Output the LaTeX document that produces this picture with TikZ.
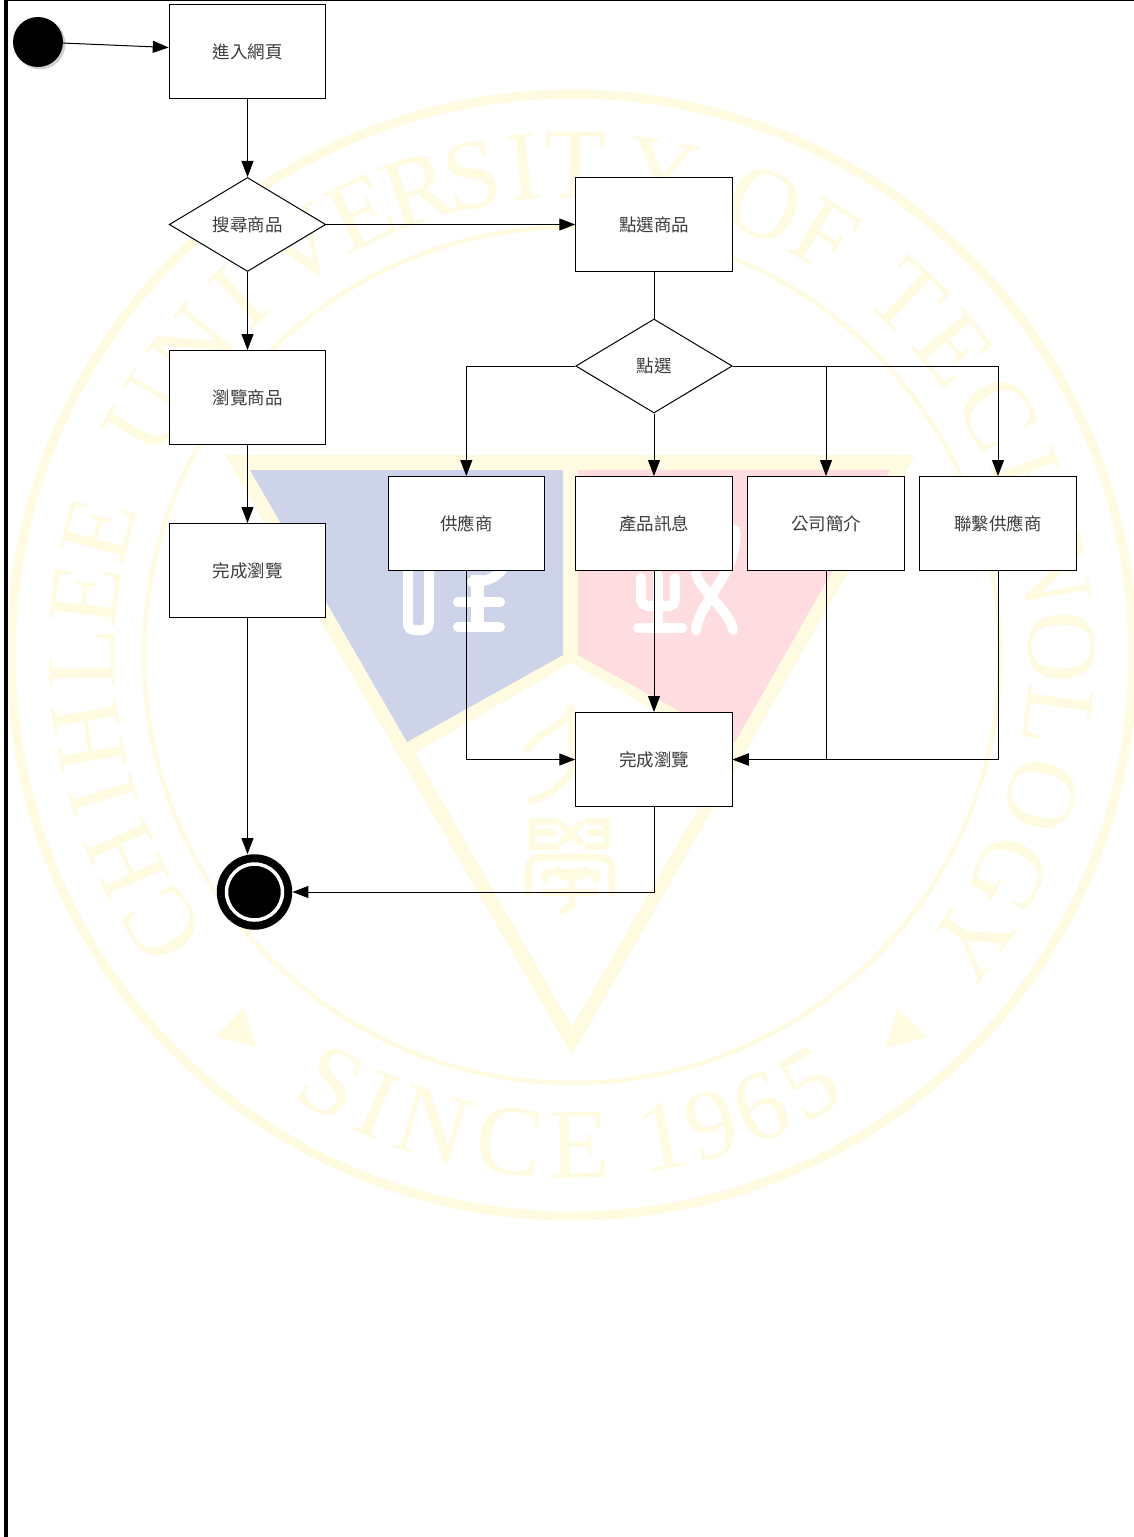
\documentclass[tikz,border=0pt]{standalone}
\usepackage{fontspec}
\usetikzlibrary{shapes.geometric,arrows.meta,calc}
\newfontfamily\cjkfont{Noto Sans CJK TC}
\newfontfamily\wmserif{Liberation Serif}
\definecolor{wmyellow}{HTML}{FFFBE0}
\definecolor{wmblue}{HTML}{CDD3E9}
\definecolor{wmred}{HTML}{FEDCE0}
\definecolor{labelgrey}{HTML}{3C3C3C}
\tikzset{
  box/.style={draw=black,line width=1pt,fill=white,rectangle,minimum width=156.5pt,minimum height=94pt,inner sep=0pt,text=labelgrey,font=\cjkfont\fontsize{17.5}{20}\selectfont},
  choice/.style={draw=black,line width=1pt,fill=white,diamond,aspect=1.66,minimum width=156.5pt,minimum height=94pt,inner sep=0pt,text=labelgrey,font=\cjkfont\fontsize{17.5}{20}\selectfont},
  flow/.style={draw=black,line width=1pt,-{Triangle[length=16pt,width=12pt]}},
  plainflow/.style={draw=black,line width=1pt},
  wmstroke/.style={draw=wmyellow,line cap=round,line join=round,line width=7pt},
  wmwhite/.style={draw=white,line cap=round,line join=round,line width=10pt},
  sealletter/.style={text=wmyellow,inner sep=0pt,anchor=base,font=\wmserif\fontsize{100}{100}\selectfont}
}
\begin{document}
\begin{tikzpicture}[x=1pt,y=-1pt]
\useasboundingbox (0,0) rectangle (1134,1537);
\fill[white] (0,0) rectangle (1134,1537);
% watermark seal
\begin{scope}[shift={(572pt,-655pt)},x=1pt,y=1pt]
  \draw[wmyellow,line width=9pt] (0,0) circle[radius=561];
  \draw[wmyellow,line width=4.5pt] (0,0) circle[radius=428];
  \foreach \ch/\ang [count=\i] in {C/213.4,H/204.7,I/196.7,H/189.5,L/180.5,E/173,E/165.2,
      U/150.5,N/141,I/133,V/123.6,E/115.5,R/108.3,S/101.8,I/95.7,T/89.6,Y/79.5,
      O/66.9,F/58.9,T/46.8,E/38.7,C/29.6,H/20,N/10,O/0.9,L/-7.3,O/-16.7,G/-26.6,Y/-35.6}
    \node[sealletter,rotate=\ang-90] (sealtop\i) at (\ang:457) {\ch};
  \foreach \ch/\ang [count=\i] in {S/240.7,I/246.7,N/253.6,C/262.7,E/270.9,1/280.7,9/286.6,6/292.7,5/299}
    \node[sealletter,rotate=\ang+90] (sealbottom\i) at (\ang:523) {\ch};
\end{scope}
\fill[wmyellow] (225,455) -- (915,455) -- (572,1055) -- cycle;
\fill[wmyellow] (244,1008) -- (216,1036) -- (256,1047) -- cycle;
\fill[wmyellow] (897,1008) -- (927,1037) -- (886,1048) -- cycle;
\fill[wmblue] (250,470) -- (563,470) -- (563,655) -- (407,742) -- cycle;
\fill[wmred] (578,470) -- (890,470) -- (735,742) -- (578,655) -- cycle;
\fill[white] (415,753) -- (571,663) -- (730,753) -- (572,1027) -- cycle;
% left shield character
\draw[wmwhite] (408,570) -- (408,622) .. controls (408,630) and (411,630) .. (418,630) -- (422,630) .. controls (428,630) and (429,626) .. (429,618) -- (429,570);
\draw[wmwhite] (458,602) -- (500,602);
\draw[wmwhite] (458,627) -- (500,627);
\draw[line width=13pt,draw=white] (477,575) -- (477,627);
\draw[wmwhite] (472,582) .. controls (485,582) and (497,578) .. (503,568);
% right shield character
\draw[wmwhite] (641,578) -- (641,598) .. controls (641,605) and (645,606) .. (650,606) -- (668,606) .. controls (674,606) and (675,603) .. (675,596) -- (675,578);
\draw[wmwhite] (658,575) -- (658,627);
\draw[wmwhite] (638,628) -- (682,628);
\draw[wmwhite] (696,572) .. controls (698,590) and (730,610) .. (733,630);
\draw[wmwhite] (735,530) .. controls (740,570) and (700,600) .. (696,630);
% centre characters
\draw[wmstroke] (570,708) .. controls (570,725) and (540,730) .. (527,750);
\draw[wmstroke] (571,708) -- (573,765) .. controls (570,780) and (550,795) .. (531,801);
\draw[wmstroke] (532,821) -- (556,821) (532,832) -- (553,832) (532,846) -- (556,846) (532,821) -- (532,846);
\draw[wmstroke] (606,821) -- (588,821) (606,832) -- (590,832) (606,846) -- (588,846) (606,821) -- (606,846);
\draw[wmstroke] (562,825) -- (580,842) (580,825) -- (562,842);
\draw[wmstroke] (528,893) -- (528,870) .. controls (528,860) and (535,857) .. (545,857) -- (595,857) .. controls (605,857) and (612,860) .. (612,870) -- (612,893);
\draw[wmstroke] (545,880) -- (545,872) -- (596,872) -- (596,880);
\draw[wmstroke] (558,870) .. controls (560,880) and (585,880) .. (585,870);
\draw[wmstroke] (572,880) -- (572,905) -- (562,912);
\draw[wmstroke] (545,892) -- (596,892);
% page frame
\fill[black] (4,0) rectangle (8,1537);
\fill[black] (4,0) rectangle (1134,1);
% nodes
\fill[black!18] (40,44) circle[radius=25.5];
\node[circle,fill=black,minimum size=50pt,inner sep=0pt] (start) at (38,42) {};
\node[box] (enter) at (247.5,51.5) {進入網頁};
\node[choice] (search) at (247.5,224.5) {搜尋商品};
\node[box] (browse) at (247.5,397.5) {瀏覽商品};
\node[box] (doneleft) at (247.5,570.5) {完成瀏覽};
\node[box] (pick) at (654,224.5) {點選商品};
\node[choice] (click) at (654,366) {點選};
\node[box] (supplier) at (466.3,523.5) {供應商};
\node[box] (product) at (654,523.5) {產品訊息};
\node[box] (company) at (826,523.5) {公司簡介};
\node[box] (contact) at (998,523.5) {聯繫供應商};
\node[box] (doneright) at (654,759.5) {完成瀏覽};
\node[circle,fill=black,minimum size=75.5pt,inner sep=0pt] (stop) at (254.5,892) {};
\draw[white,line width=3.5pt] (stop.center) circle[radius=28];
% connectors
\draw[flow] (start) -- ([yshift=4pt]enter.west);
\draw[flow] (enter) -- (search);
\draw[flow] (search) -- (pick);
\draw[flow] (search) -- (browse);
\draw[flow] (browse) -- (doneleft);
\draw[flow] (doneleft.south) -- (doneleft.south |- stop.north);
\draw[plainflow] (pick) -- (click);
\draw[flow] (click.west) -| (supplier.north);
\draw[flow] (click) -- (product);
\draw[flow] (click.east) -| (company.north);
\draw[flow] (click.east) -| (contact.north);
\draw[flow] (supplier.south) |- (doneright.west);
\draw[flow] (product) -- (doneright);
\draw[flow] (company.south) |- (doneright.east);
\draw[flow] (contact.south) |- (doneright.east);
\draw[flow] (doneright.south) |- (stop.east);
\end{tikzpicture}
\end{document}
